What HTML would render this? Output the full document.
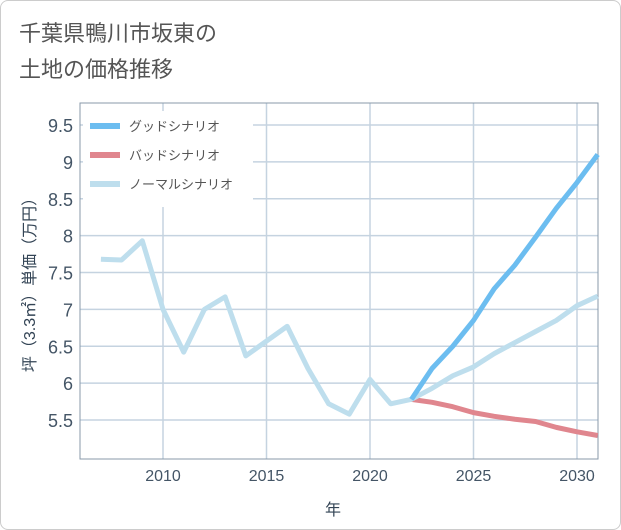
<!DOCTYPE html>
<html><head><meta charset="utf-8"><style>
body{margin:0;background:#fff;font-family:"Liberation Sans","Noto Sans CJK JP",sans-serif}
#c{position:relative;width:619px;height:528px;border:1px solid #ccc;border-radius:8px;overflow:hidden}
</style></head><body>
<div id="c">
<svg id="s" width="619" height="528">
<text x="18" y="40" font-size="22" fill="#555">千葉県鴨川市坂東の</text>
<text x="18" y="76" font-size="22" fill="#555">土地の価格推移</text>
<g id="grid"></g>
<rect x="79" y="102" width="518" height="356" fill="none" stroke="#8899aa" stroke-width="1"/>
<g id="ticks"></g>
<g id="lines"></g>
<text transform="translate(34,280) rotate(-90)" text-anchor="middle" font-size="16" fill="#345">坪（3.3㎡）単価（万円）</text>
<text x="332" y="514" text-anchor="middle" font-size="16" fill="#345">年</text>
<g id="legend"></g>
</svg></div>
<script>
const years=[2007,2008,2009,2010,2011,2012,2013,2014,2015,2016,2017,2018,2019,2020,2021,2022,2023,2024,2025,2026,2027,2028,2029,2030,2031];
const normal=[7.68,7.67,7.93,7.0,6.42,7.0,7.17,6.37,6.57,6.77,6.2,5.72,5.58,6.05,5.72,5.78,5.93,6.1,6.22,6.4,6.55,6.7,6.85,7.05,7.18];
const goodYears=[2022,2023,2024,2025,2026,2027,2028,2029,2030,2031];
const good=[5.78,6.2,6.5,6.85,7.28,7.6,7.98,8.37,8.72,9.1];
const bad=[5.78,5.74,5.68,5.6,5.55,5.51,5.48,5.4,5.34,5.29];
const yTicks=[5.5,6,6.5,7,7.5,8,8.5,9,9.5];
const yLabels=["5.5","6","6.5","7","7.5","8","8.5","9","9.5"];
const xTicks=[2010,2015,2020,2025,2030];
const NS="http://www.w3.org/2000/svg";
const X=y=>162+(y-2010)*20.7;
const Y=v=>419-(v-5.5)*73.75;
function mk(t,a,p){const e=document.createElementNS(NS,t);for(const k in a)e.setAttribute(k,a[k]);document.getElementById(p).appendChild(e);return e;}
yTicks.forEach((v,i)=>{
 const l=mk('line',{x1:79,x2:597,y1:Y(v),y2:Y(v),stroke:'#c5d3e0','stroke-width':1.5},'grid');
 
 
 const t=mk('text',{x:72,y:Y(v)+7,'text-anchor':'end','font-size':18,fill:'#456'},'ticks');
 t.textContent=yLabels[i];
 
 
});
xTicks.forEach(v=>{
 const l=mk('line',{x1:X(v),x2:X(v),y1:102,y2:458,stroke:'#c5d3e0','stroke-width':1.5},'grid');
 
 
 const t=mk('text',{x:X(v),y:480,'text-anchor':'middle','font-size':16,fill:'#456'},'ticks');
 t.textContent=v;
 
 
});
function line(xs,vs,col,name){
 const p=mk('polyline',{points:xs.map((y,i)=>X(y)+','+Y(vs[i])).join(' '),fill:'none',stroke:col,'stroke-width':5,'stroke-linejoin':'round'},'lines');
 
 
}
line(goodYears,bad,'#e0868e','bad-scenario-line');
line(years,normal,'#bedeed','normal-scenario-line');
line(goodYears,good,'#6cbdf0','good-scenario-line');
const bg=mk('rect',{x:82,y:110,width:170,height:96,fill:'#fff'},'legend');


[['グッドシナリオ','#6cbdf0'],['バッドシナリオ','#e0868e'],['ノーマルシナリオ','#bedeed']].forEach((d,i)=>{
 const y=125+i*29;
 const r=mk('rect',{x:89,y:y-3,width:30,height:6,fill:d[1]},'legend');
 
 
 const t=mk('text',{x:128,y:y+5,'font-size':13,fill:'#555'},'legend');
 t.textContent=d[0];
 
 
});
</script></body></html>
